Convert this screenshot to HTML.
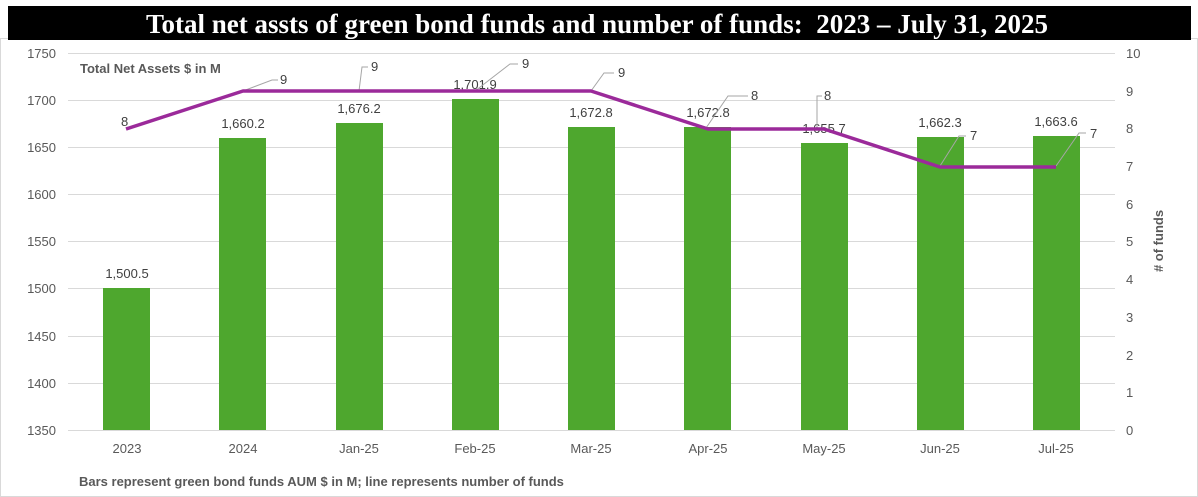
<!DOCTYPE html>
<html><head><meta charset="utf-8"><style>
body{margin:0;background:#fff;width:1198px;height:497px;overflow:hidden}
svg{display:block}
</style></head><body>
<svg width="1198" height="497" xmlns="http://www.w3.org/2000/svg" font-family="Liberation Sans, sans-serif">
<rect x="0" y="0" width="1198" height="497" fill="#fff"/>
<rect x="0.5" y="38.5" width="1197" height="458" fill="none" stroke="#d9d9d9"/>
<rect x="8" y="6" width="1183" height="34" fill="#000"/>
<text x="597" y="33" text-anchor="middle" font-family="Liberation Serif, serif" font-weight="bold" font-size="27" fill="#fff" xml:space="preserve">Total net assts of green bond funds and number of funds:  2023 – July 31, 2025</text>
<g stroke="#d9d9d9" stroke-width="1">
<line x1="68" x2="1115" y1="53.5" y2="53.5"/><line x1="68" x2="1115" y1="100.5" y2="100.5"/><line x1="68" x2="1115" y1="147.5" y2="147.5"/><line x1="68" x2="1115" y1="194.5" y2="194.5"/><line x1="68" x2="1115" y1="241.5" y2="241.5"/><line x1="68" x2="1115" y1="288.5" y2="288.5"/><line x1="68" x2="1115" y1="336.5" y2="336.5"/><line x1="68" x2="1115" y1="383.5" y2="383.5"/><line x1="68" x2="1115" y1="430.5" y2="430.5"/>
</g>
<g font-size="13" fill="#595959" text-anchor="end">
<text x="56" y="58">1750</text><text x="56" y="105">1700</text><text x="56" y="152">1650</text><text x="56" y="199">1600</text><text x="56" y="246">1550</text><text x="56" y="293">1500</text><text x="56" y="341">1450</text><text x="56" y="388">1400</text><text x="56" y="435">1350</text>
</g>
<g font-size="13" fill="#595959" text-anchor="start">
<text x="1126" y="58">10</text><text x="1126" y="96">9</text><text x="1126" y="133">8</text><text x="1126" y="171">7</text><text x="1126" y="209">6</text><text x="1126" y="246">5</text><text x="1126" y="284">4</text><text x="1126" y="322">3</text><text x="1126" y="360">2</text><text x="1126" y="397">1</text><text x="1126" y="435">0</text>
</g>
<text transform="translate(1163,241) rotate(-90)" text-anchor="middle" font-size="13" font-weight="bold" fill="#595959"># of funds</text>
<text x="80" y="73" font-size="13" font-weight="bold" fill="#595959">Total Net Assets $ in M</text>
<g fill="#4ea72e">
<rect x="103" y="288" width="47" height="142"/>
<rect x="219" y="138" width="47" height="292"/>
<rect x="336" y="123" width="47" height="307"/>
<rect x="452" y="99" width="47" height="331"/>
<rect x="568" y="127" width="47" height="303"/>
<rect x="684" y="127" width="47" height="303"/>
<rect x="801" y="143" width="47" height="287"/>
<rect x="917" y="137" width="47" height="293"/>
<rect x="1033" y="136" width="47" height="294"/>
</g>
<g font-size="13" fill="#404040" text-anchor="middle">
<text x="127" y="278">1,500.5</text><text x="243" y="128">1,660.2</text><text x="359" y="113">1,676.2</text><text x="475" y="89">1,701.9</text><text x="591" y="117">1,672.8</text><text x="708" y="117">1,672.8</text><text x="824" y="133">1,655.7</text><text x="940" y="127">1,662.3</text><text x="1056" y="126">1,663.6</text>
</g>
<g stroke="#a6a6a6" stroke-width="1" fill="none">
<polyline points="243,91 272,80 278,80"/>
<polyline points="359,91 362,67 368,67"/>
<polyline points="475,91 510,64 518,64"/>
<polyline points="591,91 604,73 614,73"/>
<polyline points="706,128 728,96 748,96"/>
<polyline points="817,128 817,96 822,96"/>
<polyline points="940,166 959,136 966,136"/>
<polyline points="1056,166 1079,133 1086,133"/>
</g>
<polyline points="126,129 243,91 359,91 475,91 591,91 708,129 824,129 940,167 1056,167" fill="none" stroke="#9b2a9a" stroke-width="3.5" stroke-linejoin="round"/>
<g font-size="13" fill="#404040">
<text x="121" y="126">8</text><text x="280" y="84">9</text><text x="371" y="71">9</text><text x="522" y="68">9</text><text x="618" y="77">9</text><text x="751" y="100">8</text><text x="824" y="100">8</text><text x="970" y="140">7</text><text x="1090" y="138">7</text>
</g>
<g font-size="13" fill="#595959" text-anchor="middle">
<text x="127" y="453">2023</text><text x="243" y="453">2024</text><text x="359" y="453">Jan-25</text><text x="475" y="453">Feb-25</text><text x="591" y="453">Mar-25</text><text x="708" y="453">Apr-25</text><text x="824" y="453">May-25</text><text x="940" y="453">Jun-25</text><text x="1056" y="453">Jul-25</text>
</g>
<text x="79" y="486" font-size="13" font-weight="bold" fill="#595959">Bars represent green bond funds AUM $ in M; line represents number of funds</text>
</svg>
</body></html>
